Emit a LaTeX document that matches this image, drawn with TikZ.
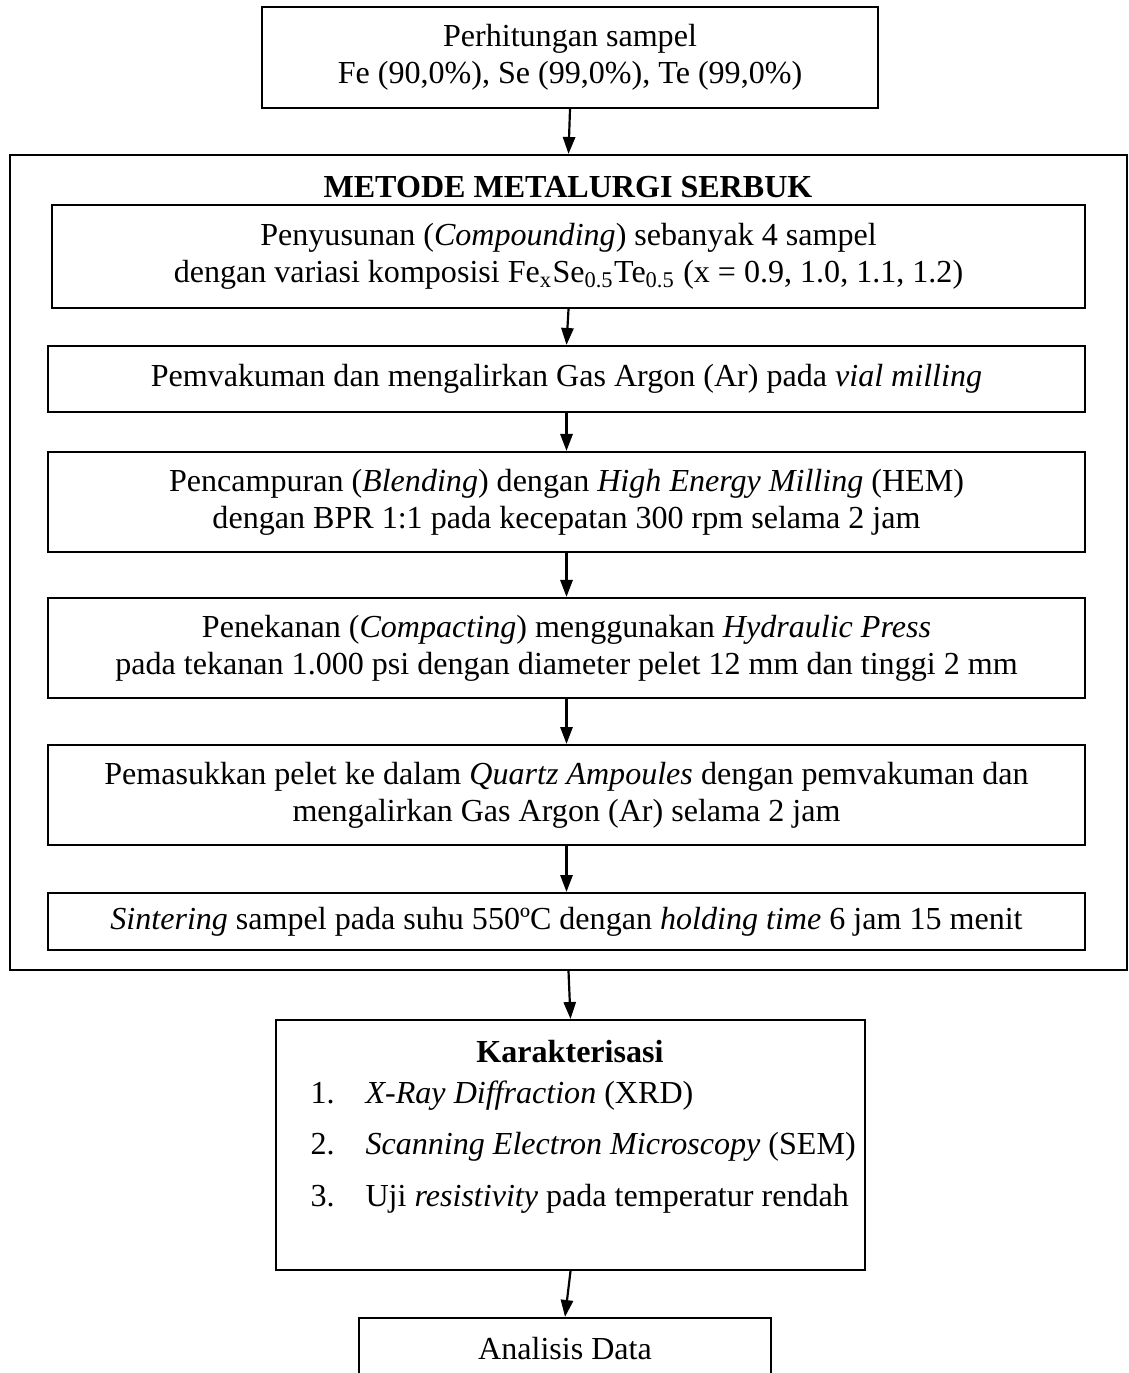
\documentclass[tikz,border=0pt]{standalone}
\usepackage{fontspec}
\setmainfont{Liberation Serif}
\usetikzlibrary{arrows.meta}
\def\pxu{0.343pt}
\begin{document}
\begin{tikzpicture}[x=\pxu,y=-\pxu,
  every node/.style={font=\fontsize{11pt}{12.8pt}\selectfont, inner sep=0pt},
  flowbox/.style={draw, line width=0.75pt, align=center},
  framebox/.style={draw, line width=0.75pt},
  boldtext/.style={font=\fontsize{11pt}{12.8pt}\selectfont\bfseries},
  conn/.style={line width=0.75pt, -{Triangle[width=4.2pt,length=5.8pt]}}]
\useasboundingbox (0,0) rectangle (1129,1373);
\node[flowbox, minimum width={616*\pxu}, minimum height={101*\pxu}] (top) at (570,57.5)
  {Perhitungan sampel\\Fe (90,0\%), Se (99,0\%), Te (99,0\%)};
\node[framebox, minimum width={1117*\pxu}, minimum height={815*\pxu}] (outer) at (568.5,562.5) {};
\node[boldtext] (otitle) at (568,187) {METODE METALURGI SERBUK};
\node[flowbox, minimum width={1033*\pxu}, minimum height={103*\pxu}] (b1) at (568.5,256.5)
  {Penyusunan (\textit{Compounding}) sebanyak 4 sampel\\dengan variasi komposisi Fe\textsubscript{x}Se\textsubscript{0.5}Te\textsubscript{0.5} (x = 0.9, 1.0, 1.1, 1.2)};
\node[flowbox, minimum width={1037*\pxu}, minimum height={66*\pxu}] (b2) at (566.5,379)
  {Pemvakuman dan mengalirkan Gas Argon (Ar) pada \textit{vial milling}};
\node[flowbox, minimum width={1037*\pxu}, minimum height={100*\pxu}] (b3) at (566.5,502)
  {Pencampuran (\textit{Blending}) dengan \textit{High Energy Milling} (HEM)\\dengan BPR 1:1 pada kecepatan 300 rpm selama 2 jam};
\node[flowbox, minimum width={1037*\pxu}, minimum height={100*\pxu}] (b4) at (566.5,648)
  {Penekanan (\textit{Compacting}) menggunakan \textit{Hydraulic Press}\\pada tekanan 1.000 psi dengan diameter pelet 12 mm dan tinggi 2 mm};
\node[flowbox, minimum width={1037*\pxu}, minimum height={100*\pxu}] (b5) at (566.5,795)
  {Pemasukkan pelet ke dalam \textit{Quartz Ampoules} dengan pemvakuman dan\\mengalirkan Gas Argon (Ar) selama 2 jam};
\node[flowbox, minimum width={1037*\pxu}, minimum height={57*\pxu}] (b6) at (566.5,921.5)
  {\textit{Sintering} sampel pada suhu 550ºC dengan \textit{holding time} 6 jam 15 menit};
\node[framebox, minimum width={589*\pxu}, minimum height={250*\pxu}] (kar) at (570.5,1145) {};
\node[boldtext] (ktitle) at (570,1052) {Karakterisasi};
\node[anchor=base west] (n1) at (310,1103) {1.};
\node[anchor=base west] (k1) at (365,1103) {\textit{X-Ray Diffraction} (XRD)};
\node[anchor=base west] (n2) at (310,1154) {2.};
\node[anchor=base west] (k2) at (365,1154) {\textit{Scanning Electron Microscopy} (SEM)};
\node[anchor=base west] (n3) at (310,1206) {3.};
\node[anchor=base west] (k3) at (365,1206) {Uji \textit{resistivity} pada temperatur rendah};
\node[flowbox, minimum width={412*\pxu}, minimum height={62*\pxu}] (ana) at (565,1349) {Analisis Data};
\draw[conn] (top.south) -- (outer.north);
\draw[conn] (b1.south) -- (b2.north);
\draw[conn] (b2.south) -- (b3.north);
\draw[conn] (b3.south) -- (b4.north);
\draw[conn] (b4.south) -- (b5.north);
\draw[conn] (b5.south) -- (b6.north);
\draw[conn] (outer.south) -- (kar.north);
\draw[conn] (kar.south) -- (ana.north);
\end{tikzpicture}
\end{document}
